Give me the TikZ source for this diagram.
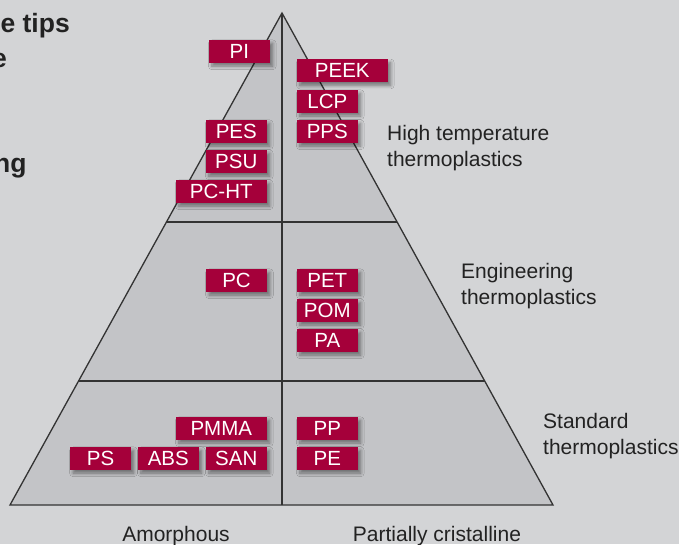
\documentclass[tikz,border=0pt]{standalone}
\usepackage{fontspec}
\setmainfont{Liberation Sans}
\usetikzlibrary{calc,shadows.blur}
\definecolor{bgcol}{HTML}{D3D4D6}
\definecolor{trifill}{HTML}{C3C4C7}
\definecolor{boxred}{HTML}{A5003A}
\definecolor{linecol}{HTML}{333333}
\definecolor{txtcol}{HTML}{222222}
\tikzset{
  pbox/.style={fill=boxred, text=white, minimum width=60.7pt, minimum height=22.7pt,
    inner sep=0pt, font=\fontsize{20.5}{22}\selectfont,
    blur shadow={shadow xshift=3pt, shadow yshift=-3.5pt, shadow blur radius=3.5pt, shadow blur steps=6, shadow opacity=45}},
  wbox/.style={pbox, minimum width=90.7pt},
  lbl/.style={anchor=base west, align=left, text=txtcol, inner sep=0pt, font=\fontsize{21}{26}\selectfont},
  blbl/.style={anchor=base, text=txtcol, inner sep=0pt, font=\fontsize{21}{26}\selectfont},
  head/.style={anchor=base east, text=txtcol, inner sep=0pt, font=\bfseries\fontsize{26.5}{35}\selectfont},
  edge/.style={draw=linecol, line width=1.3pt},
  midline/.style={draw=linecol, line width=1.8pt}
}
\begin{document}
\begin{tikzpicture}[x=1pt, y=-1pt]
\useasboundingbox (0,0) rectangle (679,544);
\clip (0,0) rectangle (679,544);
\fill[bgcol] (0,0) rectangle (679,544);
% heading fragments
\node[head] (h1) at (70,32) {e tips};
\node[head] (h2) at (7,67) {e};
\node[head] (h3) at (26.7,172) {ng};
% triangle
\coordinate (apex) at (282,13);
\coordinate (bl) at (10,505);
\coordinate (br) at (553,505);
\coordinate (bm) at (282,505);
\fill[trifill] (apex) -- (bl) -- (br) -- cycle;
\coordinate (l1) at ($(apex)!0.4248!(bl)$);
\coordinate (r1) at ($(apex)!0.4248!(br)$);
\coordinate (l2) at ($(apex)!0.748!(bl)$);
\coordinate (r2) at ($(apex)!0.748!(br)$);
\draw[edge] (l1) -- (r1);
\draw[edge] (l2) -- (r2);
\draw[midline] (apex) -- (bm);
\draw[edge, line join=miter] (bl) -- (apex) -- (br) -- cycle;
% boxes
\node[pbox] (PI) at (239.3,51.3) {PI};
\node[wbox] (PEEK) at (342.3,70.5) {PEEK};
\node[pbox] (LCP) at (327.3,101.2) {LCP};
\node[pbox] (PPS) at (327.3,131.3) {PPS};
\node[pbox] (PES) at (236.3,131.3) {PES};
\node[pbox] (PSU) at (236.3,161.3) {PSU};
\node[wbox] (PCHT) at (221.3,191.3) {PC-HT};
\node[pbox] (PC) at (236.5,280.3) {PC};
\node[pbox] (PET) at (327.3,280.3) {PET};
\node[pbox] (POM) at (327.3,310.3) {POM};
\node[pbox] (PA) at (327.3,340.3) {PA};
\node[wbox] (PMMA) at (221.3,428.2) {PMMA};
\node[pbox] (PS) at (100.5,458.3) {PS};
\node[pbox] (ABS) at (168.3,458.3) {ABS};
\node[pbox] (SAN) at (236.3,458.3) {SAN};
\node[pbox] (PP) at (327.3,428.2) {PP};
\node[pbox] (PE) at (327.3,458.3) {PE};
% labels (anchor is the baseline of the last line)
\node[lbl] (hight) at (387,166) {High temperature\\thermoplastics};
\node[lbl] (eng) at (461,304) {Engineering\\thermoplastics};
\node[lbl] (std) at (543,454) {Standard\\thermoplastics};
\node[blbl] (amor) at (176,541) {Amorphous};
\node[blbl] (part) at (437,541) {Partially cristalline};
\end{tikzpicture}
\end{document}
